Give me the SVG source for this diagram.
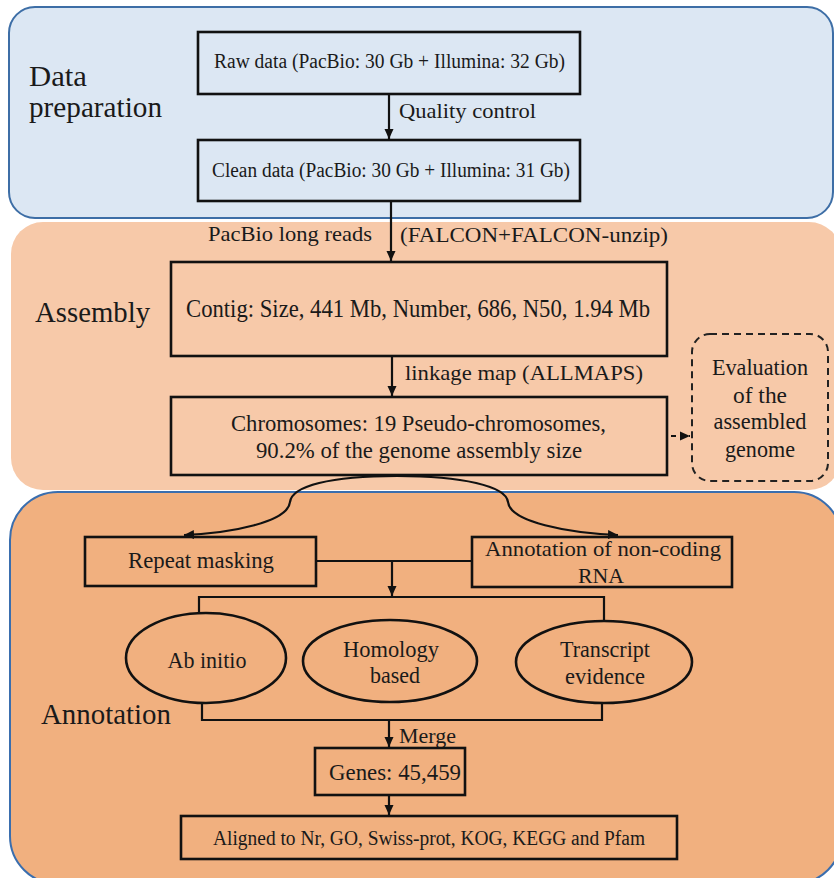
<svg xmlns="http://www.w3.org/2000/svg" width="834" height="878" viewBox="0 0 834 878">
<defs>
<style>
.t{font-family:"Liberation Serif","Times New Roman",serif;fill:#1a1a1a}
.box{fill:none;stroke:#111;stroke-width:2.6}
.ln{fill:none;stroke:#111;stroke-width:2.2}
</style>
<marker id="ah" viewBox="0 0 10 10" refX="10" refY="5" markerWidth="10" markerHeight="10" markerUnits="userSpaceOnUse" orient="auto">
<path d="M0,0.5 L10,5 L0,9.5 z" fill="#111"/>
</marker>
</defs>
<g id="panel-data">
<rect x="9" y="7" width="824" height="211" rx="26" fill="#dce7f3" stroke="#3d6ea6" stroke-width="2"/>
<text class="t" x="29" y="86" font-size="29" lengthAdjust="spacingAndGlyphs" textLength="58">Data</text>
<text class="t" x="29" y="117" font-size="29" lengthAdjust="spacingAndGlyphs" textLength="133">preparation</text>
</g>
<g id="panel-assembly">
<rect x="11" y="222" width="830" height="268" rx="32" fill="#f7c9a9"/>
<text class="t" x="35" y="322" font-size="29" lengthAdjust="spacingAndGlyphs" textLength="115">Assembly</text>
</g>
<g id="panel-annotation">
<rect x="10" y="492" width="832" height="392" rx="48" fill="#f1b07f" stroke="#3a6eae" stroke-width="2"/>
<text class="t" x="41" y="724" font-size="29" lengthAdjust="spacingAndGlyphs" textLength="130">Annotation</text>
</g>
<g id="connectors">
<path class="ln" d="M389,94 V139" marker-end="url(#ah)"/>
<path class="ln" d="M391,201 V261" marker-end="url(#ah)"/>
<path class="ln" d="M392,356 V396" marker-end="url(#ah)"/>
<path fill="none" stroke="#111" stroke-width="2" stroke-dasharray="5,4" d="M671,436 H690" marker-end="url(#ah)"/>
<path class="ln" d="M397,476 C330,476 292,486 290,502 C288,522 232,533 184,535" marker-end="url(#ah)"/>
<path class="ln" d="M397,476 C462,476 506,486 508,502 C510,522 568,533 618,535" marker-end="url(#ah)"/>
<path class="ln" d="M316,561 H472"/>
<path class="ln" d="M392,561 V596" marker-end="url(#ah)"/>
<path class="ln" d="M199,613 V597 H604 V620"/>
<path class="ln" d="M202,703 V720 H602 V703"/>
<path class="ln" d="M389,720 V747" marker-end="url(#ah)"/>
<path class="ln" d="M389,795 V815" marker-end="url(#ah)"/>
</g>
<g id="raw">
<rect class="box" x="198" y="32" width="382" height="62"/>
<text class="t" x="214" y="68" font-size="20" lengthAdjust="spacingAndGlyphs" textLength="351">Raw data (PacBio: 30 Gb + Illumina: 32 Gb)</text>
</g>
<g id="qc-label">
<text class="t" x="399" y="118" font-size="22" lengthAdjust="spacingAndGlyphs" textLength="137">Quality control</text>
</g>
<g id="clean">
<rect class="box" x="198" y="140" width="382" height="61"/>
<text class="t" x="212" y="177" font-size="20" lengthAdjust="spacingAndGlyphs" textLength="358">Clean data (PacBio: 30 Gb + Illumina: 31 Gb)</text>
</g>
<g id="pacbio-labels">
<text class="t" x="208" y="241" font-size="22" lengthAdjust="spacingAndGlyphs" textLength="164">PacBio long reads</text>
<text class="t" x="400" y="242" font-size="22" lengthAdjust="spacingAndGlyphs" textLength="268">(FALCON+FALCON-unzip)</text>
</g>
<g id="contig">
<rect class="box" x="171" y="262" width="496" height="94"/>
<text class="t" x="186" y="317" font-size="24.5" lengthAdjust="spacingAndGlyphs" textLength="464">Contig: Size, 441 Mb, Number, 686, N50, 1.94 Mb</text>
</g>
<g id="linkage-label">
<text class="t" x="405" y="380" font-size="22" lengthAdjust="spacingAndGlyphs" textLength="238">linkage map (ALLMAPS)</text>
</g>
<g id="chromosomes">
<rect class="box" x="171" y="397" width="496" height="78"/>
<text class="t" x="231" y="431" font-size="24" lengthAdjust="spacingAndGlyphs" textLength="375">Chromosomes: 19 Pseudo-chromosomes,</text>
<text class="t" x="256" y="458" font-size="24" lengthAdjust="spacingAndGlyphs" textLength="326">90.2% of the genome assembly size</text>
</g>
<g id="evaluation">
<rect x="692" y="334" width="136" height="147" rx="18" fill="none" stroke="#222" stroke-width="2" stroke-dasharray="7,5"/>
<text class="t" x="760" y="375" font-size="23" text-anchor="middle" lengthAdjust="spacingAndGlyphs" textLength="96">Evaluation</text>
<text class="t" x="760" y="403" font-size="23" text-anchor="middle" lengthAdjust="spacingAndGlyphs" textLength="54">of the</text>
<text class="t" x="760" y="429" font-size="23" text-anchor="middle" lengthAdjust="spacingAndGlyphs" textLength="93">assembled</text>
<text class="t" x="760" y="457" font-size="23" text-anchor="middle" lengthAdjust="spacingAndGlyphs" textLength="70">genome</text>
</g>
<g id="repeat">
<rect class="box" x="85" y="537" width="231" height="49"/>
<text class="t" x="128" y="568" font-size="22.5" lengthAdjust="spacingAndGlyphs" textLength="146">Repeat masking</text>
</g>
<g id="ncrna">
<rect class="box" x="472" y="537" width="260" height="50"/>
<text class="t" x="485" y="556" font-size="22" lengthAdjust="spacingAndGlyphs" textLength="236">Annotation of non-coding</text>
<text class="t" x="601" y="583" font-size="22" text-anchor="middle" lengthAdjust="spacingAndGlyphs" textLength="46">RNA</text>
</g>
<g id="abinitio">
<ellipse class="box" cx="206" cy="658" rx="80" ry="45"/>
<text class="t" x="207" y="668" font-size="23" text-anchor="middle" lengthAdjust="spacingAndGlyphs" textLength="79">Ab initio</text>
</g>
<g id="homology">
<ellipse class="box" cx="390" cy="661" rx="87" ry="41"/>
<text class="t" x="391" y="657" font-size="23" text-anchor="middle" lengthAdjust="spacingAndGlyphs" textLength="96">Homology</text>
<text class="t" x="395" y="683" font-size="23" text-anchor="middle" lengthAdjust="spacingAndGlyphs" textLength="50">based</text>
</g>
<g id="transcript">
<ellipse class="box" cx="604" cy="662" rx="88" ry="41"/>
<text class="t" x="605" y="657" font-size="23" text-anchor="middle" lengthAdjust="spacingAndGlyphs" textLength="90">Transcript</text>
<text class="t" x="605" y="684" font-size="23" text-anchor="middle" lengthAdjust="spacingAndGlyphs" textLength="80">evidence</text>
</g>
<g id="merge-label">
<text class="t" x="399" y="743" font-size="22" lengthAdjust="spacingAndGlyphs" textLength="57">Merge</text>
</g>
<g id="genes">
<rect class="box" x="315" y="748" width="150" height="47"/>
<text class="t" x="329" y="780" font-size="23" lengthAdjust="spacingAndGlyphs" textLength="132">Genes: 45,459</text>
</g>
<g id="aligned">
<rect class="box" x="181" y="816" width="496" height="43"/>
<text class="t" x="213" y="845" font-size="20" lengthAdjust="spacingAndGlyphs" textLength="432">Aligned to Nr, GO, Swiss-prot, KOG, KEGG and Pfam</text>
</g>
</svg>
